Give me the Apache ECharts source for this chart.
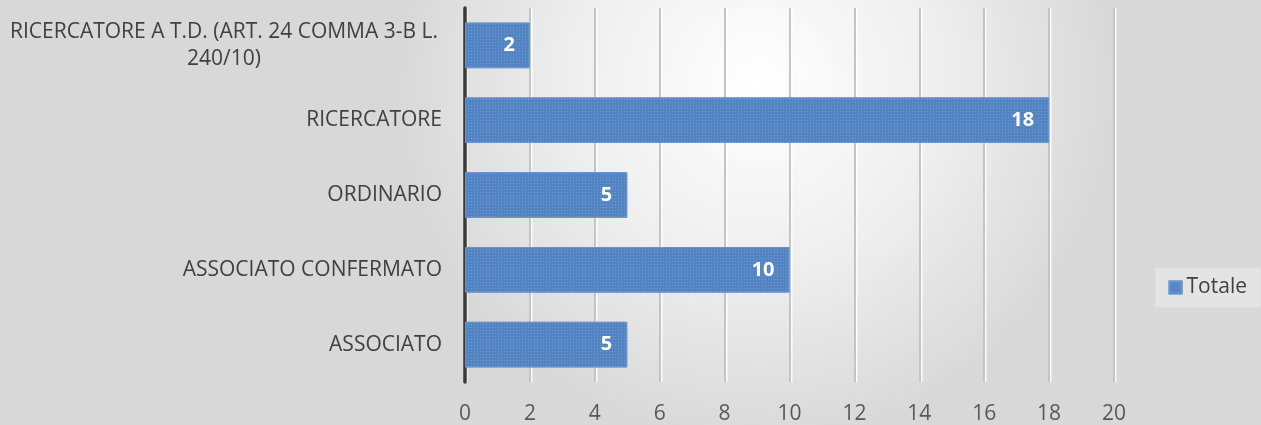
<!DOCTYPE html>
<html>
<head>
<meta charset="utf-8">
<script src="https://cdn.jsdelivr.net/npm/echarts@6/dist/echarts.min.js"></script>
<style>
  html, body { margin: 0; padding: 0; }
  #chart { width: 1261px; height: 425px; }
</style>
</head>
<body>
<div id="chart"></div>
<script>
// Categories listed bottom to top (category axis starts at the bottom)
const categories = [
  'ASSOCIATO',
  'ASSOCIATO CONFERMATO',
  'ORDINARIO',
  'RICERCATORE',
  'RICERCATORE A T.D. (ART. 24 COMMA 3-B L. 240/10)'
];
const totale = [5, 10, 5, 18, 2];
const seriesName = 'Totale';

const FONT = '"Open Sans", "Liberation Sans", sans-serif';

const chart = echarts.init(document.getElementById('chart'));
chart.setOption({
  backgroundColor: {
    type: 'radial', x: 0.6, y: 0.2, r: 0.85,
    colorStops: [
      { offset: 0, color: '#ffffff' },
      { offset: 0.5, color: '#efefef' },
      { offset: 1, color: '#d8d8d8' }
    ]
  },
  textStyle: { fontFamily: FONT },
  grid: { left: 465, right: 147, top: 8, bottom: 42, containLabel: false },
  legend: {
    data: [seriesName],
    right: 1, top: 268,
    orient: 'vertical',
    padding: [9, 13, 9, 13],
    backgroundColor: 'rgba(255,255,255,0.3)',
    borderColor: '#e2e2e2', borderWidth: 1,
    itemWidth: 12, itemHeight: 12,
    icon: 'rect',
    textStyle: { fontSize: 21, color: '#404040', fontFamily: FONT }
  },
  xAxis: {
    type: 'value',
    min: 0, max: 20, interval: 2,
    axisLine: { show: false },
    axisTick: { show: false },
    axisLabel: { fontSize: 21, color: '#595959', margin: 22, fontFamily: FONT },
    splitLine: {
      lineStyle: {
        color: '#c4c4c4', width: 2,
        shadowColor: 'rgba(255,255,255,0.9)', shadowOffsetX: 1.5, shadowBlur: 0
      }
    }
  },
  yAxis: {
    type: 'category',
    data: categories,
    axisLine: { show: true, lineStyle: { color: '#3a3a3a', width: 3.5 } },
    axisTick: { show: false },
    axisLabel: {
      fontSize: 21, color: '#404040', margin: 23, fontFamily: FONT,
      lineHeight: 27,
      formatter: function (v) {
        if (v.length > 30) {
          return '{c|RICERCATORE A T.D. (ART. 24 COMMA 3-B L.}\n{c|240/10)}';
        }
        return v;
      },
      rich: {
        c: { width: 436, align: 'center', fontSize: 21, color: '#404040', lineHeight: 27, fontFamily: FONT }
      }
    }
  },
  series: [{
    name: seriesName,
    type: 'bar',
    data: totale,
    barWidth: '61%',
    itemStyle: {
      color: '#5283c2',
      borderColor: '#6a93cc', borderWidth: 1,
      decal: {
        symbol: 'rect', symbolSize: 1,
        dashArrayX: [1, 2], dashArrayY: [1, 2],
        color: 'rgba(255,255,255,0.2)', rotation: 0
      }
    },
    label: {
      show: true, position: 'insideRight', distance: 15,
      color: '#ffffff', fontWeight: 'bold', fontSize: 20, fontFamily: FONT
    }
  }]
});
</script>
</body>
</html>
